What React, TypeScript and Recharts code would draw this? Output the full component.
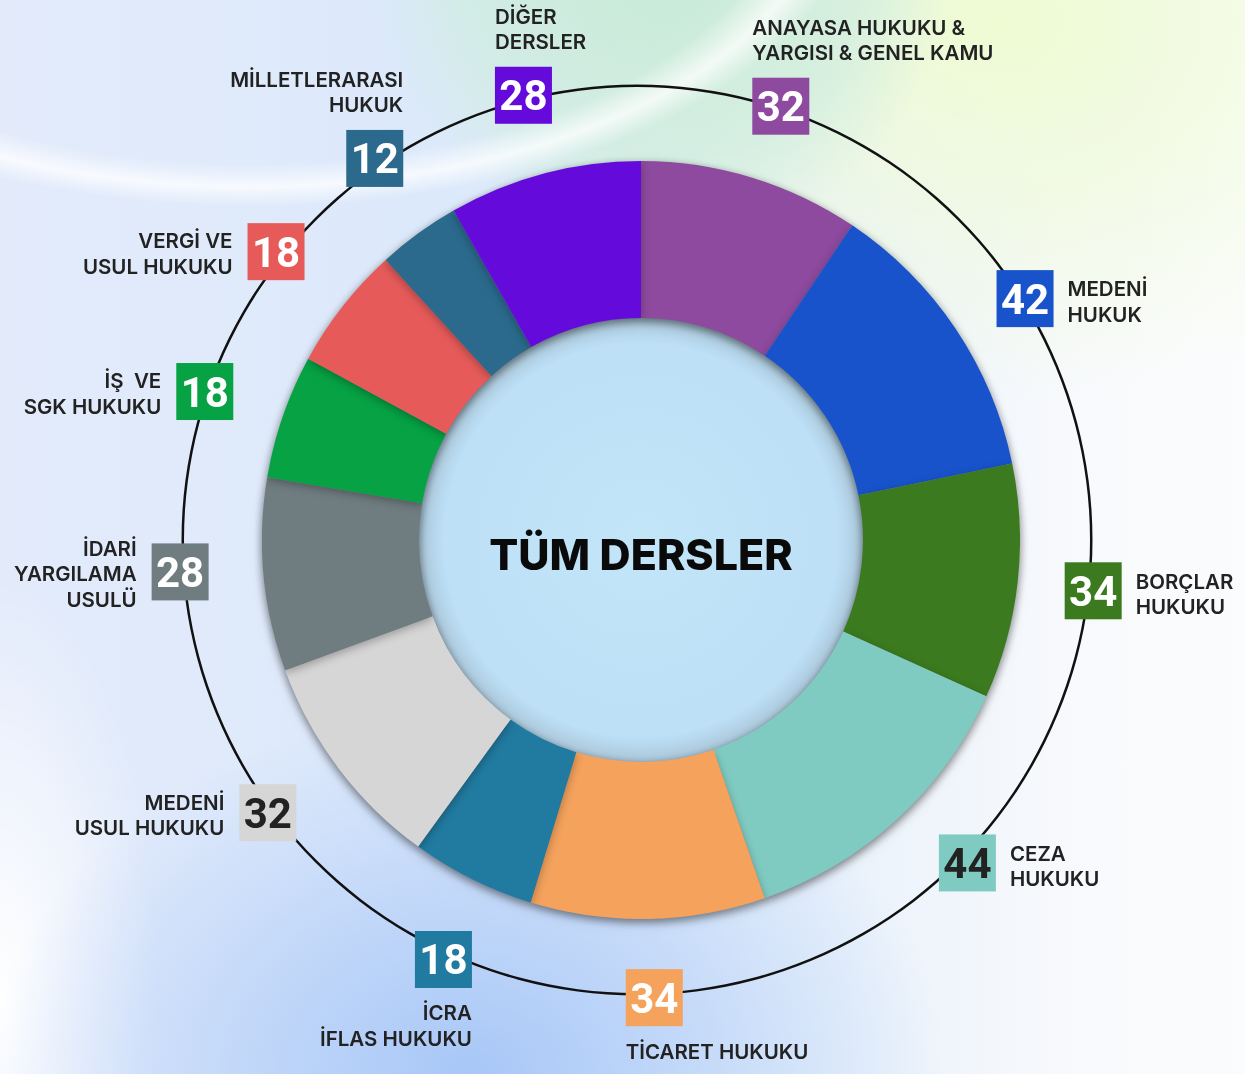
import React from 'react';
import { PieChart, Pie, Cell } from 'recharts';

// category names, split in display lines
const categories: string[][] = [
  ['ANAYASA HUKUKU &', 'YARGISI & GENEL KAMU'],
  ['MEDENİ', 'HUKUK'],
  ['BORÇLAR', 'HUKUKU'],
  ['CEZA', 'HUKUKU'],
  ['TİCARET HUKUKU'],
  ['İCRA', 'İFLAS HUKUKU'],
  ['MEDENİ', 'USUL HUKUKU'],
  ['İDARİ', 'YARGILAMA', 'USULÜ'],
  ['İŞ  VE', 'SGK HUKUKU'],
  ['VERGİ VE', 'USUL HUKUKU'],
  ['MİLLETLERARASI', 'HUKUK'],
  ['DİĞER', 'DERSLER'],
];

const lessonCounts = [32, 42, 34, 44, 34, 18, 32, 28, 18, 18, 12, 28];

const centerTitle = 'TÜM DERSLER';

const sliceColors = [
  '#8E4A9E', '#1853CC', '#3B7A1E', '#7FCBC2', '#F4A25C', '#217AA0',
  '#D6D6D6', '#707D80', '#06A244', '#E65B5A', '#2B6A8C', '#640ADB',
];

const numberColors = [
  '#fff', '#fff', '#fff', '#222', '#fff', '#fff',
  '#222', '#fff', '#fff', '#fff', '#fff', '#fff',
];

// label layout: where the text sits relative to its number box,
// and small hand nudges of the box along the outer circle (deg clockwise, radius)
const labelPlacement = [
  'top-left', 'right', 'right', 'right', 'bottom-left', 'bottom-right',
  'left', 'left', 'left', 'left', 'top-right', 'top-left',
];
const labelNudge: [number, number][] = [
  [1.4, 457], [2.0, 457], [0, 459], [-3.3, 462], [-1.1, 458], [-1.7, 462],
  [0.6, 459], [1.3, 458], [-0.1, 457], [0.5, 462], [1.5, 463], [0.5, 459],
];

const chartData = lessonCounts.map((value, i) => ({
  name: categories[i].join(' '),
  value,
}));

const ringData = [{ name: 'ring', value: 1 }];

const RAD = Math.PI / 180;
const BOX = 57;
const LH = 25.5;
const LABEL_FONT = 'Inter, "Noto Sans", sans-serif';

const renderLabel = (props: any) => {
  const { cx, cy, midAngle, index } = props;
  const [dAngle, r] = labelNudge[index];
  const a = midAngle - dAngle;
  const x = cx + r * Math.cos(-a * RAD);
  const y = cy + r * Math.sin(-a * RAD);
  const half = BOX / 2;
  const lines = categories[index];
  const n = lines.length;
  const place = labelPlacement[index];

  let tx = x;
  let anchor: 'start' | 'end' = 'start';
  let firstCenter = y;
  if (place === 'right') {
    tx = x + half + 14;
    firstCenter = y + 3 - ((n - 1) * LH) / 2;
  } else if (place === 'left') {
    tx = x - half - 15;
    anchor = 'end';
    firstCenter = y + 2 - ((n - 1) * LH) / 2;
  } else if (place === 'top-left' || place === 'top-right') {
    tx = place === 'top-left' ? x - half : x + half;
    anchor = place === 'top-left' ? 'start' : 'end';
    firstCenter = y - half - 25 - (n - 1) * LH;
  } else {
    tx = place === 'bottom-left' ? x - half : x + half;
    anchor = place === 'bottom-left' ? 'start' : 'end';
    firstCenter = y + half + 25;
  }

  return (
    <g key={`lbl-${index}`}>
      <rect x={x - half} y={y - half} width={BOX} height={BOX} fill={sliceColors[index]} />
      <text
        x={x}
        y={y + 15}
        textAnchor="middle"
        fill={numberColors[index]}
        style={{ fontFamily: 'Roboto, sans-serif', fontWeight: 700, fontSize: 42 }}
      >
        {lessonCounts[index]}
      </text>
      {lines.map((line, i) => (
        <text
          key={i}
          x={tx}
          y={firstCenter + i * LH + 7.5}
          textAnchor={anchor}
          fill="#222"
          style={{ fontFamily: LABEL_FONT, fontWeight: 600, fontSize: 20.5, whiteSpace: 'pre' }}
        >
          {line}
        </text>
      ))}
    </g>
  );
};

const renderTitle = (props: any) => (
  <text
    key="title"
    x={props.cx}
    y={props.cy + 30}
    textAnchor="middle"
    fill="#0a0a0a"
    style={{ fontFamily: LABEL_FONT, fontWeight: 800, fontSize: 43 }}
  >
    {centerTitle}
  </text>
);

const background = [
  'radial-gradient(ellipse 620px 330px at 250px -120px, rgba(255,255,255,0) 86%, rgba(255,255,255,0.75) 93%, rgba(255,255,255,0) 99%)',
  'radial-gradient(circle at 660px -40px, rgba(198,234,214,0.95) 0px, rgba(205,236,222,0.7) 200px, rgba(205,236,222,0) 290px)',
  'radial-gradient(ellipse 520px 380px at 1000px 20px, #eefbd2 0%, rgba(238,251,210,0) 100%)',
  'radial-gradient(ellipse 480px 360px at 470px 1074px, #a8c7f7 0%, rgba(168,199,247,0) 100%)',
  'radial-gradient(ellipse 160px 420px at 0px 1000px, #ffffff 0%, rgba(255,255,255,0) 100%)',
  'linear-gradient(90deg, #e3ebfb 0%, #dce9fb 35%, #e8f1fb 65%, #f7f9fc 85%, #fbfcfd 100%)',
].join(', ');

export default function App() {
  return (
    <div
      style={{
        position: 'absolute',
        left: 0,
        top: 0,
        width: 1245,
        height: 1074,
        overflow: 'hidden',
        background,
      }}
    >
      <style>{`.donut-ring { filter: drop-shadow(0px 3px 4px rgba(0,0,0,0.28)); }`}</style>
      <PieChart width={1245} height={1074} margin={{ top: 0, right: 0, bottom: 0, left: 0 }}>
        <defs>
          <radialGradient id="holeFill" cx="50%" cy="50%" r="50%">
            <stop offset="0%" stopColor="#c3e5f8" />
            <stop offset="88%" stopColor="#bde0f7" />
            <stop offset="100%" stopColor="#a9c4d6" />
          </radialGradient>
        </defs>
        {/* thin outer circle */}
        <Pie
          data={ringData}
          dataKey="value"
          cx={637}
          cy={540}
          innerRadius={453}
          outerRadius={455.5}
          fill="#111"
          stroke="none"
          isAnimationActive={false}
        />
        {/* hole with the title */}
        <Pie
          data={ringData}
          dataKey="value"
          cx={641}
          cy={540}
          innerRadius={0}
          outerRadius={224}
          fill="url(#holeFill)"
          stroke="none"
          label={renderTitle}
          labelLine={false}
          isAnimationActive={false}
        />
        <Pie
          className="donut-ring"
          data={chartData}
          dataKey="value"
          cx={641}
          cy={540}
          innerRadius={222}
          outerRadius={379}
          startAngle={90}
          endAngle={-270}
          stroke="none"
          isAnimationActive={false}
        >
          {chartData.map((d, i) => (
            <Cell key={d.name} fill={sliceColors[i]} />
          ))}
        </Pie>
        {/* label layer: number boxes + names on the outer circle */}
        <Pie
          data={chartData}
          dataKey="value"
          cx={637}
          cy={540}
          innerRadius={0}
          outerRadius={1}
          startAngle={90}
          endAngle={-270}
          fill="none"
          stroke="none"
          label={renderLabel}
          labelLine={false}
          isAnimationActive={false}
        />
      </PieChart>
    </div>
  );
}
